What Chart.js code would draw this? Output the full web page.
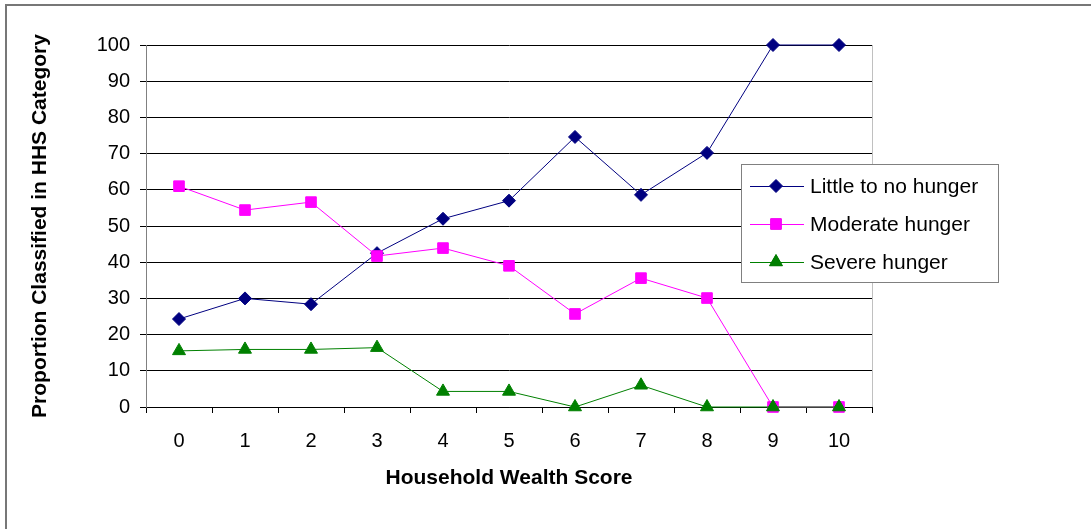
<!DOCTYPE html>
<html>
<head>
<meta charset="utf-8">
<script src="https://cdn.jsdelivr.net/npm/chart.js@4"></script>
<style>
  html, body { margin: 0; padding: 0; background: #fff; overflow: hidden; }
  #frame { position: absolute; left: 5px; top: 4px; width: 2000px; height: 2000px; border: 2px solid #777; }
  #wrap { position: absolute; left: 0; top: 0; width: 1091px; height: 529px; }
</style>
</head>
<body>
<div id="frame"></div>
<div id="wrap"><canvas id="myChart" width="1091" height="529"></canvas></div>
<script>
// データ
const wealthScores = ['0', '1', '2', '3', '4', '5', '6', '7', '8', '9', '10'];
const littleHunger = [24.3, 30.0, 28.4, 42.5, 52.0, 57.0, 74.6, 58.6, 70.2, 100, 100];
const moderateHunger = [61.0, 54.4, 56.6, 41.7, 43.9, 39.0, 25.7, 35.6, 30.1, 0, 0];
const severeHunger = [15.5, 15.9, 15.9, 16.4, 4.3, 4.3, 0, 6.0, 0, 0, 0];
const yTicks = [0, 10, 20, 30, 40, 50, 60, 70, 80, 90, 100];

const fontFamily = '"Liberation Sans", Arial, sans-serif';

// 凡例（枠付き）を自前で描く
const boxLegend = {
  id: 'boxLegend',
  afterDraw(chart) {
    const c = chart.ctx;
    const x0 = 741, y0 = 164, w = 257, h = 118;
    c.save();
    c.fillStyle = '#fff';
    c.fillRect(x0, y0, w, h);
    c.strokeStyle = '#808080';
    c.lineWidth = 1;
    c.strokeRect(x0 + 0.5, y0 + 0.5, w, h);
    const rows = [186, 224, 262];
    chart.data.datasets.forEach((ds, i) => {
      const y = rows[i];
      c.strokeStyle = ds.borderColor;
      c.lineWidth = 1;
      c.beginPath();
      c.moveTo(750, y + 0.5);
      c.lineTo(804, y + 0.5);
      c.stroke();
      Chart.helpers.drawPoint(c, {
        pointStyle: ds.pointStyle, radius: ds.pointRadius, borderWidth: 1
      }, 776, y);
      c.fillStyle = ds.pointBackgroundColor;
      c.strokeStyle = ds.borderColor;
      c.fill();
      c.fillStyle = '#000';
      c.font = '21px ' + fontFamily;
      c.textBaseline = 'middle';
      c.textAlign = 'left';
      c.fillText(ds.label, 810, y + 1);
    });
    c.restore();
  },
  beforeDatasetsDraw(chart) {
    // プロット右端の枠線
    const a = chart.chartArea;
    const c = chart.ctx;
    c.save();
    c.strokeStyle = '#c0c0c0';
    c.lineWidth = 1;
    c.beginPath();
    c.moveTo(a.right + 0.5, a.top);
    c.lineTo(a.right + 0.5, a.bottom);
    c.stroke();
    c.restore();
  }
};

const ctx = document.getElementById('myChart').getContext('2d');
new Chart(ctx, {
  type: 'line',
  data: {
    labels: wealthScores,
    datasets: [
      {
        label: 'Little to no hunger', data: littleHunger,
        borderColor: '#000080', backgroundColor: '#000080', pointBackgroundColor: '#000080',
        pointStyle: 'rectRot', pointRadius: 6.5, borderWidth: 1, pointBorderWidth: 1, order: 3, clip: false
      },
      {
        label: 'Moderate hunger', data: moderateHunger,
        borderColor: '#ff00ff', backgroundColor: '#ff00ff', pointBackgroundColor: '#ff00ff',
        pointStyle: 'rect', pointRadius: 7.5, borderWidth: 1, pointBorderWidth: 1, order: 2, clip: false
      },
      {
        label: 'Severe hunger', data: severeHunger,
        borderColor: '#008000', backgroundColor: '#008000', pointBackgroundColor: '#008000',
        pointStyle: 'triangle', pointRadius: 7.5, borderWidth: 1, pointBorderWidth: 1, order: 1, clip: false
      }
    ]
  },
  options: {
    responsive: false,
    animation: false,
    layout: { padding: { left: 0, top: 45, right: 219, bottom: 0 } },
    plugins: { legend: { display: false }, tooltip: { enabled: false } },
    elements: { line: { tension: 0 } },
    scales: {
      x: {
        offset: true,
        afterFit: (s) => { s.height = 122; },
        grid: { offset: true, drawOnChartArea: false, drawTicks: true, tickLength: 6, color: '#000' },
        border: { color: '#000', width: 1 },
        ticks: { color: '#000', padding: 16, font: { family: fontFamily, size: 20 }, maxRotation: 0 },
        title: {
          display: true, text: 'Household Wealth Score', color: '#000',
          font: { family: fontFamily, size: 21, weight: 'bold' }, padding: { top: 0, bottom: 38 }
        }
      },
      y: {
        min: 0, max: 100,
        afterFit: (s) => { s.width = 146; },
        afterBuildTicks: (s) => { s.ticks = yTicks.map(v => ({ value: v })); },
        grid: { color: '#000', tickLength: 6, drawTicks: true },
        border: { color: '#808080', width: 1 },
        ticks: { color: '#000', padding: 10, font: { family: fontFamily, size: 20 } },
        title: {
          display: true, text: 'Proportion Classified in HHS Category', color: '#000',
          font: { family: fontFamily, size: 21, weight: 'bold' }, padding: { top: 28, bottom: 0 }
        }
      }
    }
  },
  plugins: [boxLegend]
});
</script>
</body>
</html>
